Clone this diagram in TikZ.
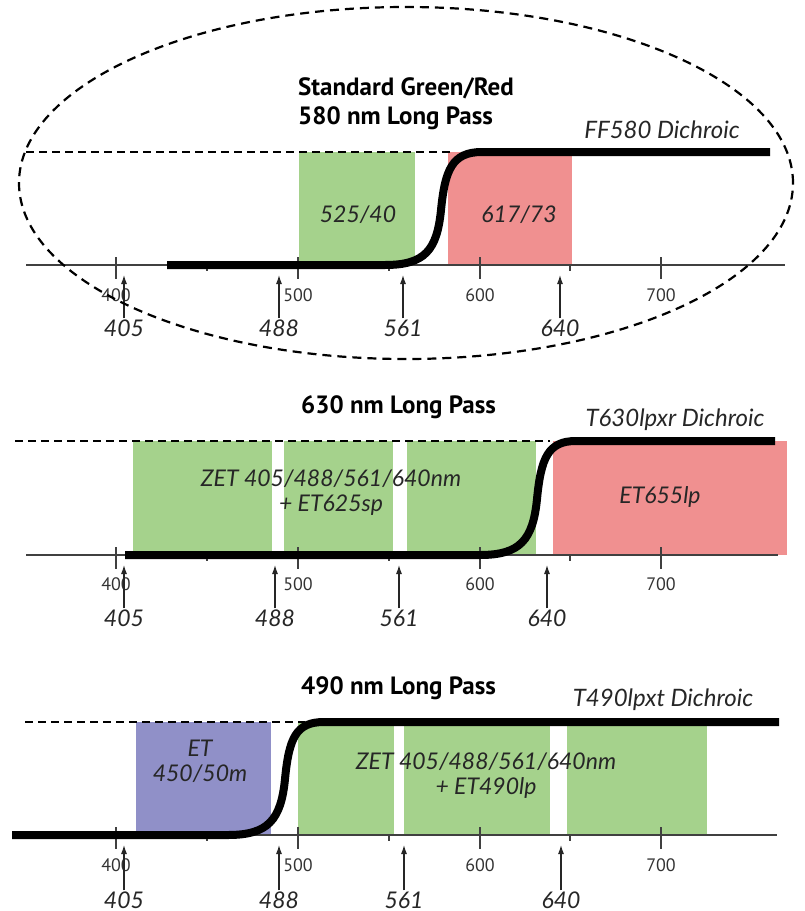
\documentclass[tikz,border=0pt]{standalone}
\usepackage{fontspec}
\newfontfamily\headfont{PT Sans}
\newfontfamily\handfont{Lato}
\usetikzlibrary{arrows.meta}

\definecolor{passgreen}{RGB}{165,210,140}
\definecolor{passred}{RGB}{240,144,144}
\definecolor{passblue}{RGB}{144,144,200}

\begin{document}
\begin{tikzpicture}[
    x=1pt, y=-1pt,
    every node/.style={inner sep=1pt},
    heading/.style={font=\headfont\bfseries\fontsize{25}{29}\selectfont, anchor=west, align=left},
    hand/.style={font=\handfont\itshape\fontsize{23}{25}\selectfont, text=black!85, align=center},
    dichro/.style={hand, font=\handfont\itshape\fontsize{24}{26}\selectfont},
    ticklbl/.style={font=\headfont\fontsize{18}{20}\selectfont, text=black!80},
    waveaxis/.style={line width=1.1pt, black!75},
    tickmark/.style={line width=1.1pt, black!75},
    cutoff/.style={line width=2pt, dash pattern=on 8pt off 5pt},
    ring/.style={line width=2.2pt, dash pattern=on 9pt off 6pt},
    transm/.style={line width=8pt},
    laser/.style={line width=1.1pt, black!85, -{Latex[length=9pt,width=6pt]}}
]
    \useasboundingbox (0,0) rectangle (804,911);

    % ---------- Standard Green/Red, 580 nm long pass ----------
    \fill[passgreen] (299,152) rectangle (415,265);
    \fill[passred] (448,152) rectangle (572,265);

    \draw[cutoff] (26,152) -- (450,152);
    \draw[waveaxis] (26,265) -- (785,265);
    \foreach \v/\xx in {400/116, 500/298, 600/480, 700/661}{
        \draw[tickmark] (\xx,257) -- (\xx,279);
        \node[ticklbl] (nA\v) at (\xx,295) {\v};
    }
    \foreach \xx in {207, 389, 570}
        \draw[tickmark] (\xx,265) -- (\xx,271);

    \draw[transm] (167,265) -- (385,265)
        .. controls (425,265) and (437,250) .. (441,210)
        .. controls (445,170) and (452,152) .. (482,152) -- (770,152);

    \node[heading] (ttlA) at (297,104) {Standard Green/Red\\580 nm Long Pass};
    \node[dichro] (dichA) at (662,130) {FF580 Dichroic};
    \node[hand] (emA1) at (358,215) {525/40};
    \node[hand] (emA2) at (519,215) {617/73};

    \foreach \lam/\xx in {405/124, 488/279, 561/403, 640/560}{
        \node[hand] (lamA\lam) at (\xx,328) {\lam};
        \coordinate (tipA\lam) at (\xx,275);
        \draw[laser] (lamA\lam) -- (tipA\lam);
    }

    % dashed ring round the standard set
    \draw[ring] (406,183) ellipse [x radius=387pt, y radius=176pt];

    % ---------- 630 nm long pass ----------
    \fill[passgreen] (133,441) rectangle (272,555);
    \fill[passgreen] (284,441) rectangle (393,555);
    \fill[passgreen] (407,441) rectangle (536,555);
    \fill[passred] (553,441) rectangle (787,555);

    \draw[cutoff] (15,441) -- (550,441);
    \draw[waveaxis] (26,555) -- (778,555);
    \foreach \v/\xx in {400/116, 500/298, 600/480, 700/661}{
        \draw[tickmark] (\xx,547) -- (\xx,569);
        \node[ticklbl] (nB\v) at (\xx,584) {\v};
    }
    \foreach \xx in {207, 389, 570}
        \draw[tickmark] (\xx,555) -- (\xx,561);

    \draw[transm] (125,555) -- (480,555)
        .. controls (520,555) and (533,540) .. (537,499)
        .. controls (541,458) and (548,441) .. (576,441) -- (775,441);

    \node[heading] (ttlB) at (300,407) {630 nm Long Pass};
    \node[dichro] (dichB) at (675,420) {T630lpxr Dichroic};
    \node[hand] (emB1) at (331,493) {ZET 405/488/561/640nm\\+ ET625sp};
    \node[hand] (emB2) at (660,497) {ET655lp};

    \foreach \lam/\xx in {405/124, 488/275, 561/399, 640/547}{
        \node[hand] (lamB\lam) at (\xx,618) {\lam};
        \coordinate (tipB\lam) at (\xx,565);
        \draw[laser] (lamB\lam) -- (tipB\lam);
    }

    % ---------- 490 nm long pass ----------
    \fill[passblue] (136,722) rectangle (271,835);
    \fill[passgreen] (298,722) rectangle (394,835);
    \fill[passgreen] (404,722) rectangle (550,835);
    \fill[passgreen] (567,722) rectangle (707,835);

    \draw[cutoff] (25,722) -- (305,722);
    \draw[waveaxis] (12,835) -- (777,835);
    \foreach \v/\xx in {400/116, 500/298, 600/480, 700/661}{
        \draw[tickmark] (\xx,827) -- (\xx,849);
        \node[ticklbl] (nC\v) at (\xx,865) {\v};
    }
    \foreach \xx in {207, 389, 570}
        \draw[tickmark] (\xx,835) -- (\xx,841);

    \draw[transm] (12,835) -- (228,835)
        .. controls (268,835) and (281,820) .. (285,779)
        .. controls (289,738) and (296,722) .. (324,722) -- (779,722);

    \node[heading] (ttlC) at (300,688) {490 nm Long Pass};
    \node[dichro] (dichC) at (663,700) {T490lpxt Dichroic};
    \node[hand] (exC1) at (200,761) {ET\\450/50m};
    \node[hand] (emC1) at (486,776) {ZET 405/488/561/640nm\\+ ET490lp};

    \foreach \lam/\xx in {405/124, 488/279, 561/404, 640/561}{
        \node[hand] (lamC\lam) at (\xx,900) {\lam};
        \coordinate (tipC\lam) at (\xx,845);
        \draw[laser] (lamC\lam) -- (tipC\lam);
    }

\end{tikzpicture}
\end{document}
